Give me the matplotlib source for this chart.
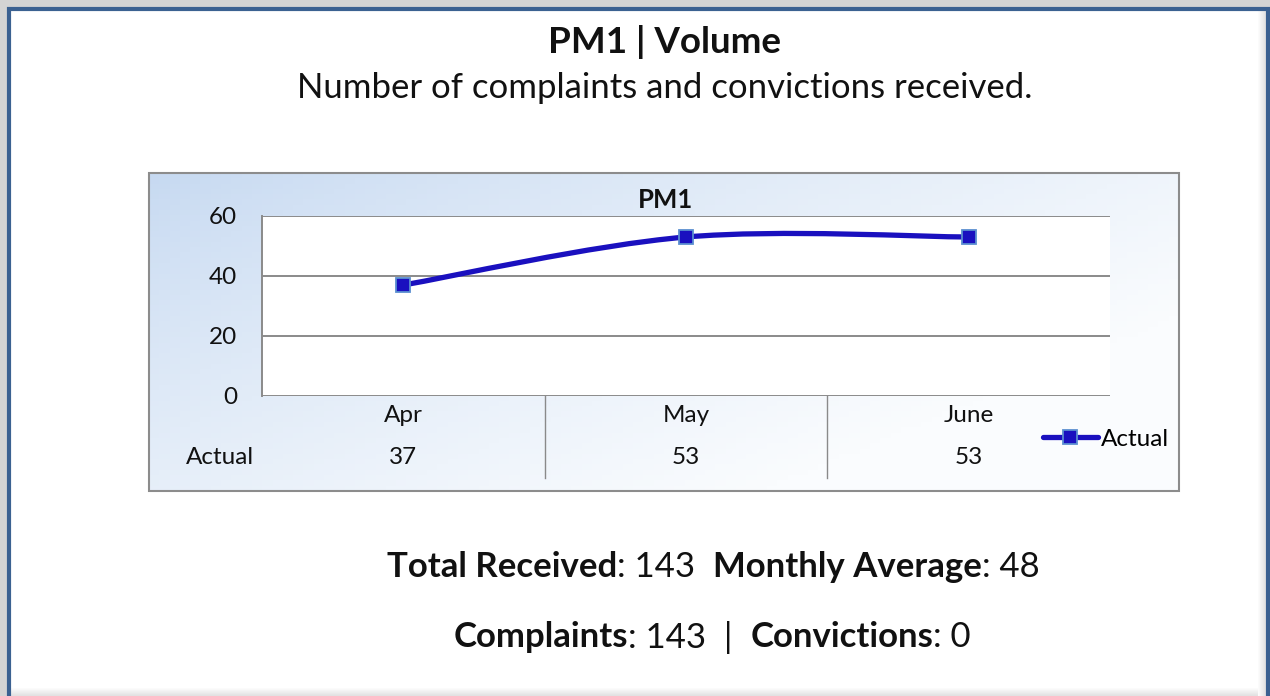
#Import packages
import numpy as np
import matplotlib
matplotlib.use('Agg')
import matplotlib.pyplot as plt
from matplotlib.path import Path
from matplotlib.patches import PathPatch, Rectangle
from matplotlib.lines import Line2D

plt.rcParams['font.family'] = ['Lato', 'DejaVu Sans']

#Data
months = ['Apr', 'May', 'June']
actual = [37, 53, 53]
y_ticks = [0, 20, 40, 60]
series_name = 'Actual'
total_received = 143
monthly_average = 48
complaints = 143
convictions = 0

W, H = 1270, 696
line_col = '#1a10bf'
marker_edge = '#5b8fd0'
grid_col = '#8a8a8a'
txt_col = '#111111'
fs = 17.5


def px_axes(fig, x0, y0, x1, y1):
	#axes placed by pixel box (top-left origin)
	return fig.add_axes([x0 / W, 1 - y1 / H, (x1 - x0) / W, (y1 - y0) / H])


def mixed_line(ax, fig, parts, xc, y, size):
	#draw bold/regular pieces side by side, centred on xc
	r = fig.canvas.get_renderer()
	objs = []
	x = 0
	for s, bold in parts:
		t = ax.text(x, y, s, fontsize=size, fontweight='bold' if bold else 'normal',
			color=txt_col, ha='left', va='center')
		bb = t.get_window_extent(renderer=r)
		objs.append(t)
		x += bb.width
	start = xc - x / 2
	xx = start
	for t in objs:
		w = t.get_window_extent(renderer=r).width
		t.set_x(xx)
		xx += w


def smooth_path(xs, ys):
	#Bezier path through the points (Excel style smoothing)
	n = len(xs)
	verts = [(xs[0], ys[0])]
	codes = [Path.MOVETO]
	for i in range(n - 1):
		p0 = max(i - 1, 0)
		p3 = min(i + 2, n - 1)
		c1 = (xs[i] + (xs[i + 1] - xs[p0]) / 6, ys[i] + (ys[i + 1] - ys[p0]) / 6)
		c2 = (xs[i + 1] - (xs[p3] - xs[i]) / 6, ys[i + 1] - (ys[p3] - ys[i]) / 6)
		verts += [c1, c2, (xs[i + 1], ys[i + 1])]
		codes += [Path.CURVE4] * 3
	return Path(verts, codes)


def main():
	fig = plt.figure(figsize=(W / 100, H / 100), dpi=100)
	fig.patch.set_facecolor('#d9d9d9')

	#Background / frame layer in pixel coordinates
	bg = fig.add_axes([0, 0, 1, 1])
	bg.set_xlim(0, W)
	bg.set_ylim(H, 0)
	bg.axis('off')
	bg.add_patch(Rectangle((0, 0), W, H, facecolor='#d4d4d4', edgecolor='none'))
	bg.add_patch(Rectangle((9, 9), W - 11, H, facecolor='white', edgecolor='#3b6191', linewidth=3))
	#inner shadow on right and bottom
	for k in range(8):
		bg.add_patch(Rectangle((W - 12 + k, 11), 1, H, facecolor='#888888', alpha=0.03 * (k + 1), edgecolor='none'))
		bg.add_patch(Rectangle((11, H - 8 + k), W - 23, 1, facecolor='#888888', alpha=0.03 * (k + 1), edgecolor='none'))

	#Chart area with gradient fill
	grad = np.zeros((60, 100, 3))
	gx, gy = np.meshgrid(np.linspace(0, 1, 100), np.linspace(0, 1, 60))
	tt = np.clip(gx * 0.75 + gy * 0.55, 0, 1) ** 0.8
	c0 = np.array([0xc6, 0xd9, 0xf1]) / 255
	c1 = np.array([0xfa, 0xfc, 0xfe]) / 255
	for i in range(3):
		grad[:, :, i] = c0[i] + (c1[i] - c0[i]) * tt
	bg.imshow(grad, extent=(149, 1179, 491, 173), aspect='auto', zorder=1)
	bg.add_patch(Rectangle((149, 173), 1030, 318, facecolor='none', edgecolor='#8c8c8c', linewidth=1.5, zorder=2))
	bg.set_xlim(0, W)
	bg.set_ylim(H, 0)

	#Titles
	bg.text(665, 42, 'PM1 | Volume', fontsize=26.5, fontweight='bold', ha='center', va='center', color=txt_col)
	bg.text(665, 88, 'Number of complaints and convictions received.', fontsize=25, ha='center', va='center', color=txt_col)
	bg.text(666, 200, 'PM1', fontsize=18.5, fontweight='bold', ha='center', va='center', color=txt_col, zorder=3)

	#Plot area
	ax = px_axes(fig, 262, 216, 1110, 396)
	ax.set_facecolor('white')
	x = np.arange(len(months))
	ax.set_xlim(-0.5, len(months) - 0.5)
	ax.set_ylim(0, 60)
	ax.set_yticks(y_ticks)
	ax.yaxis.grid(True, color=grid_col, linewidth=1.4)
	ax.set_axisbelow(True)
	ax.tick_params(axis='y', length=0, pad=18, labelsize=fs, labelcolor=txt_col)
	ax.tick_params(axis='x', length=0, labelbottom=False)
	for s in ['top', 'right', 'bottom']:
		ax.spines[s].set_visible(False)
	ax.spines['left'].set_color(grid_col)
	ax.spines['left'].set_linewidth(1.4)

	ax.add_patch(PathPatch(smooth_path(x, actual), facecolor='none', edgecolor=line_col,
		linewidth=3.8, capstyle='round', zorder=3))
	ax.plot(x, actual, linestyle='none', marker='s', markersize=10, markerfacecolor=line_col,
		markeredgecolor=marker_edge, markeredgewidth=1.3, zorder=4, clip_on=False)

	#Data table under the axis
	tr = ax.get_xaxis_transform()
	for i, m in enumerate(months):
		ax.text(i, -0.111, m, transform=tr, ha='center', va='center', fontsize=fs, color=txt_col)
		ax.text(i, -0.339, str(actual[i]), transform=tr, ha='center', va='center', fontsize=fs, color=txt_col)
	for b in x[:-1] + 0.5:
		ax.plot([b, b], [0, -0.456], transform=tr, color=grid_col, linewidth=1.0, clip_on=False)
	bg.text(220, 457, series_name, ha='center', va='center', fontsize=fs, color=txt_col, zorder=3)

	#Legend
	h = Line2D([], [], color=line_col, linewidth=3.8, marker='s', markersize=10,
		markerfacecolor=line_col, markeredgecolor=marker_edge, markeredgewidth=1.3, solid_capstyle='round')
	fig.legend([h], [series_name], loc='center left', bbox_to_anchor=(1043 / W, 1 - 439 / H),
		frameon=False, fontsize=fs, handlelength=2.25, handletextpad=0.15, borderpad=0, borderaxespad=0)

	#Summary lines
	mixed_line(bg, fig, [('Total Received', True), (': %d  ' % total_received, False),
		('Monthly Average', True), (': %d' % monthly_average, False)], 713, 567, 25)
	mixed_line(bg, fig, [('Complaints', True), (': %d  |  ' % complaints, False),
		('Convictions', True), (': %d' % convictions, False)], 712, 637, 25)

	fig.savefig('out.png', dpi=100, facecolor=fig.get_facecolor())


#Execute main script
if __name__ == '__main__':
	main()
